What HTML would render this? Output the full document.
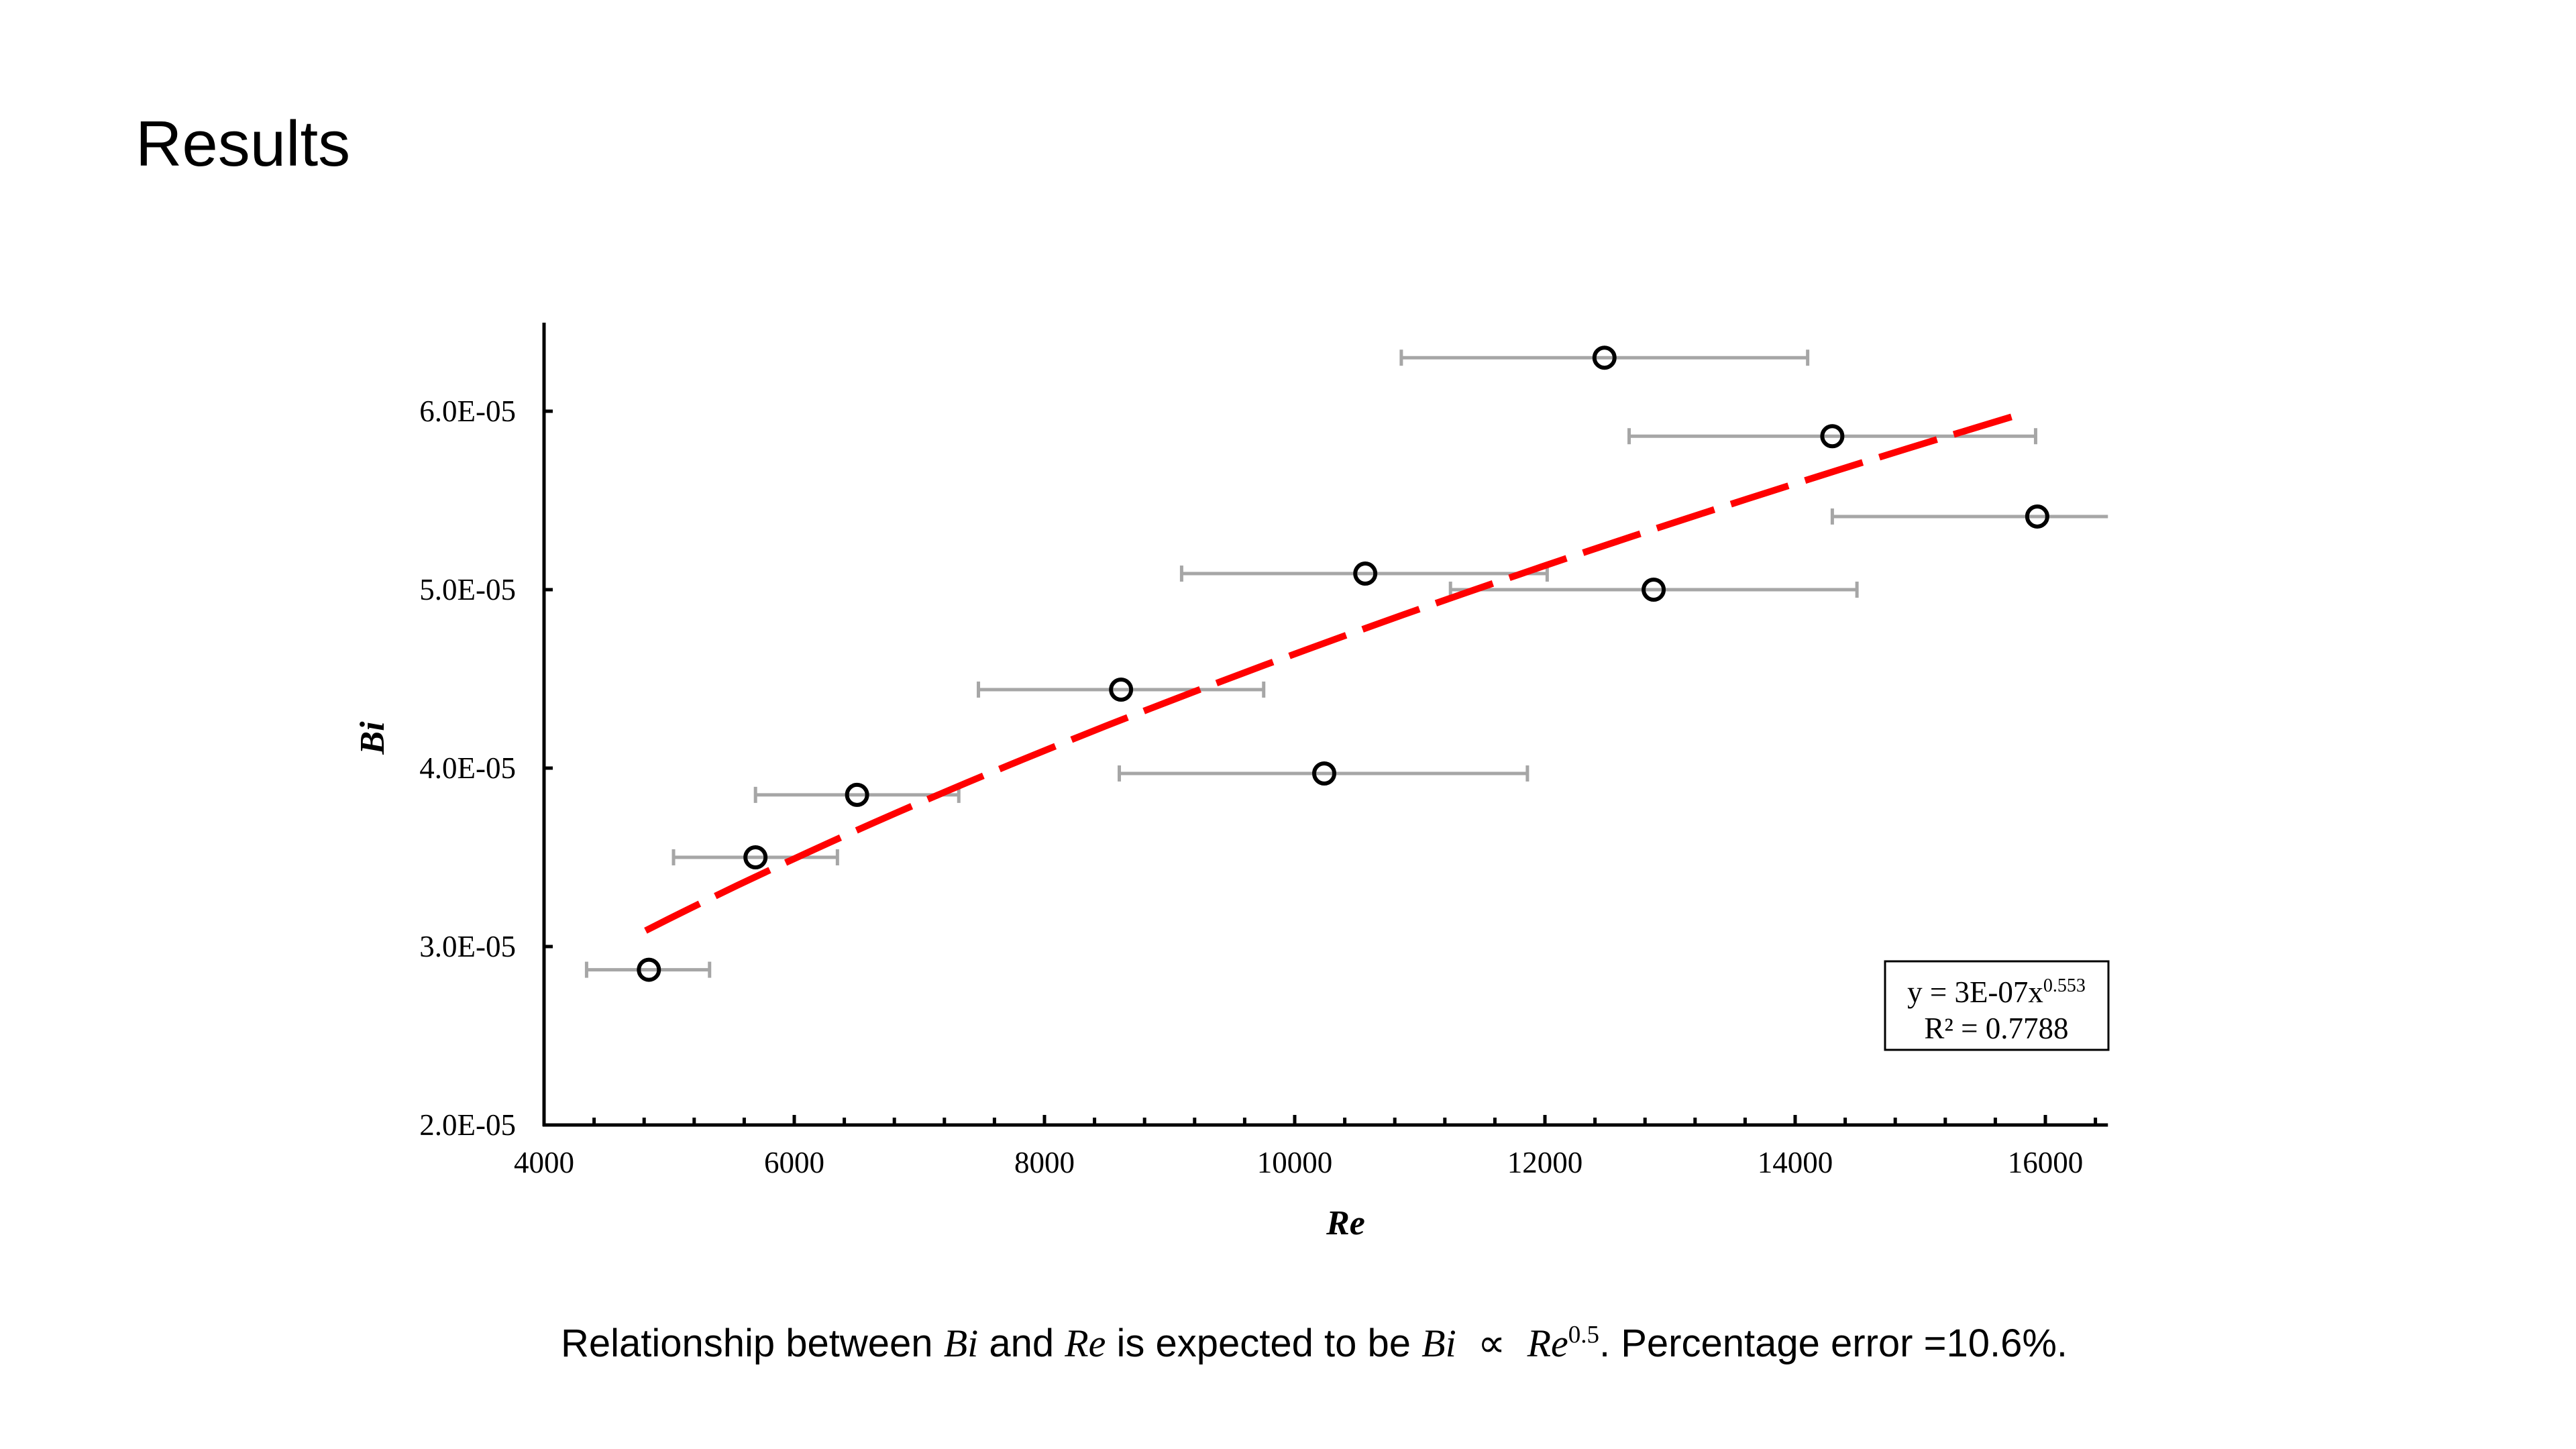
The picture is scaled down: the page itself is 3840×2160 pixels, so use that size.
<!DOCTYPE html>
<html><head><meta charset="utf-8"><style>
html,body{margin:0;padding:0;background:#fff;}
body{width:3840px;height:2160px;position:relative;overflow:hidden;font-family:"Liberation Sans",sans-serif;}
#title{position:absolute;left:202px;top:160px;font-size:96px;color:#000;}
#caption{position:absolute;left:0;width:3918px;text-align:center;top:1968px;font-size:58px;color:#000;}
#caption i{font-family:"Liberation Serif",serif;}
svg{position:absolute;left:0;top:0;}
</style></head><body>
<div id="title">Results</div>
<svg id="chart" width="3840" height="2160"></svg>
<div id="caption">Relationship between <i>Bi</i> and <i>Re</i> is expected to be <i>Bi</i> &nbsp;∝ &nbsp;<i>Re</i><sup style="font-family:'Liberation Serif',serif;font-size:37px">0.5</sup>. Percentage error =10.6%.</div>
<script>
const reValues=[4838,5690,6502,8612,10236,10564,12476,12869,14297,15935];
const biValues=[2.87e-5,3.50e-5,3.85e-5,4.44e-5,3.97e-5,5.09e-5,6.30e-5,5.00e-5,5.86e-5,5.41e-5];
const reLow=[4340,5035,5690,7472,8598,9096,10852,11245,12673,14297];
const reHigh=[5323,6345,7315,9752,11860,12018,14100,14494,15922,16500];
const xTicks=[4000,6000,8000,10000,12000,14000,16000];
const yTicks=[2e-5,3e-5,4e-5,5e-5,6e-5];
const yTickLabels=["2.0E-05","3.0E-05","4.0E-05","5.0E-05","6.0E-05"];
const trendCoef=2.77e-7, trendExp=0.556, trendStart=4812, trendEnd=15817;

const NS="http://www.w3.org/2000/svg";
const svg=document.getElementById('chart');
const X0=811,PX=373/2000;
const sx=v=>X0+(v-4000)*PX;
const Y0=1677,PY=266/1e-5;
const sy=v=>Y0-(v-2e-5)*PY;
function mk(tag,attrs,parent){const e=document.createElementNS(NS,tag);for(const k in attrs)e.setAttribute(k,attrs[k]);(parent||svg).appendChild(e);return e;}

let ax=mk('line',{x1:X0,y1:481,x2:X0,y2:Y0+2,stroke:'#000','stroke-width':5});


let axx=mk('line',{x1:X0-2,y1:Y0,x2:sx(16500),y2:Y0,stroke:'#000','stroke-width':5});


for(let v=4400;v<=16500;v+=400){
  const major=(v%2000===0);
  const t=mk('line',{x1:sx(v),y1:Y0,x2:sx(v),y2:Y0-(major?15:11),stroke:'#000','stroke-width':5});
  
  
}
xTicks.forEach(v=>{
  const t=mk('text',{x:sx(v),y:1748,'text-anchor':'middle','font-family':'Liberation Serif, serif','font-size':45});
  t.textContent=String(v);
  
  
});
yTicks.forEach((v,i)=>{
  const tk=mk('line',{x1:X0,y1:sy(v),x2:X0+13,y2:sy(v),stroke:'#000','stroke-width':5});
  
  
  const t=mk('text',{x:769,y:sy(v)+15,'text-anchor':'end','font-family':'Liberation Serif, serif','font-size':45});
  t.textContent=yTickLabels[i];
  
  
});
let yt=mk('text',{x:0,y:0,transform:'translate(572,1100) rotate(-90)','text-anchor':'middle','font-family':'Liberation Serif, serif','font-size':52,'font-weight':'bold','font-style':'italic'});
yt.textContent='Bi';


let xt=mk('text',{x:2006,y:1840,'text-anchor':'middle','font-family':'Liberation Serif, serif','font-size':52,'font-weight':'bold','font-style':'italic'});
xt.textContent='Re';



reValues.forEach((r,i)=>{
  const y=sy(biValues[i]);
  const g=mk('g',{stroke:'#a6a6a6','stroke-width':5});
  
  
  mk('line',{x1:sx(reLow[i]),y1:y,x2:sx(reHigh[i]),y2:y},g);
  mk('line',{x1:sx(reLow[i]),y1:y-12,x2:sx(reLow[i]),y2:y+12},g);
  if(reHigh[i]<16500) mk('line',{x1:sx(reHigh[i]),y1:y-12,x2:sx(reHigh[i]),y2:y+12},g);
});
let pts=[];
for(let k=0;k<=60;k++){const r=trendStart+(trendEnd-trendStart)*k/60;pts.push(sx(r).toFixed(1)+','+sy(trendCoef*Math.pow(r,trendExp)).toFixed(1));}
let tl=mk('polyline',{points:pts.join(' '),fill:'none',stroke:'#ff0000','stroke-width':10,'stroke-dasharray':'90 26'});


reValues.forEach((r,i)=>{
  const c=mk('circle',{cx:sx(r),cy:sy(biValues[i]),r:15,fill:'none',stroke:'#000','stroke-width':6});
  
  
});
let lb=mk('rect',{x:2810,y:1433,width:333,height:132,fill:'#fff',stroke:'#000','stroke-width':3});


let e1=mk('text',{x:2976,y:1494,'text-anchor':'middle','font-family':'Liberation Serif, serif','font-size':45});
e1.innerHTML='y = 3E-07x<tspan dy="-16" font-size="28">0.553</tspan>';


let e2=mk('text',{x:2976,y:1548,'text-anchor':'middle','font-family':'Liberation Serif, serif','font-size':45});
e2.textContent='R² = 0.7788';


</script>
</body></html>
